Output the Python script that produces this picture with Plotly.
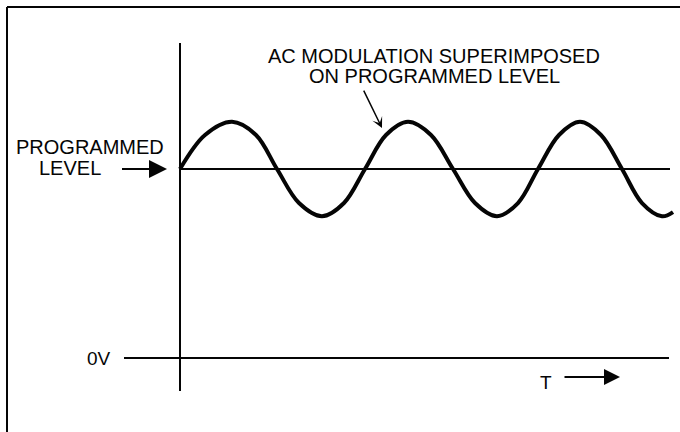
import plotly.graph_objects as go

# Time axis (arbitrary units) and voltage (programmed level = 1.0)
wave_t = [0.0, 2.5, 5.2, 7.6, 9.7, 11.9, 14.2, 16.4, 18.5, 20.6, 22.8, 25.1, 27.3, 29.5,
          31.7, 33.8, 35.8, 37.9, 40.0, 42.1, 44.2, 46.2, 48.2, 49.3]
wave_v = [1.0, 1.18, 1.25, 1.18, 1.0, 0.82, 0.75, 0.82, 1.0, 1.18, 1.25, 1.18, 1.0, 0.82,
          0.75, 0.82, 1.0, 1.18, 1.25, 1.18, 1.0, 0.82, 0.75, 0.772]

level_t = [0.0, 49.0]
level_v = [1.0, 1.0]

zero_t = [-5.6, 48.9]
zero_v = [0.0, 0.0]

vaxis_t = [0.0, 0.0]
vaxis_v = [1.667, -0.175]

title_lines = ["AC MODULATION SUPERIMPOSED", "ON PROGRAMMED LEVEL"]
level_label = ["PROGRAMMED", "LEVEL"]
zero_label = "0V"
time_label = "T"

FONT = "Liberation Sans, Arial, sans-serif"
INK = "#050505"

fig = go.Figure()

line_style = dict(color=INK, width=2)
fig.add_trace(go.Scatter(x=vaxis_t, y=vaxis_v, mode="lines", line=line_style, hoverinfo="skip"))
fig.add_trace(go.Scatter(x=zero_t, y=zero_v, mode="lines", line=line_style, hoverinfo="skip"))
fig.add_trace(go.Scatter(x=level_t, y=level_v, mode="lines", line=line_style, hoverinfo="skip"))
fig.add_trace(go.Scatter(x=wave_t, y=wave_v, mode="lines",
                         line=dict(color=INK, width=4, shape="spline", smoothing=1.0),
                         hoverinfo="skip"))

font = dict(family=FONT, size=20, color=INK)

# Caption above the waveform, with pointer arrow
fig.add_annotation(x=25.4, y=(358 - 55.5) / 189, text=title_lines[0], showarrow=False,
                   font=font, xanchor="center", yanchor="middle")
fig.add_annotation(x=25.4, y=(358 - 76) / 189, text=title_lines[1], showarrow=False,
                   font=font, xanchor="center", yanchor="middle")
fig.add_annotation(x=20.2, y=1.217, ax=18.3, ay=1.423, axref="x", ayref="y",
                   text="", showarrow=True, arrowhead=3, arrowsize=1.2,
                   arrowwidth=1.5, arrowcolor=INK)

# Programmed level label and arrow
fig.add_annotation(x=-9.0, y=(358 - 147) / 189, text=level_label[0], showarrow=False,
                   font=font, xanchor="center", yanchor="middle")
fig.add_annotation(x=-11.05, y=(358 - 168) / 189, text=level_label[1], showarrow=False,
                   font=font, xanchor="center", yanchor="middle")
fig.add_annotation(x=-1.3, y=1.0, ax=-5.95, ay=1.0, axref="x", ayref="y",
                   text="", showarrow=True, arrowhead=2, arrowsize=1.8,
                   arrowwidth=2, arrowcolor=INK)

# 0V label
fig.add_annotation(x=-8.1, y=0.0, text=zero_label, showarrow=False,
                   font=dict(family=FONT, size=19, color=INK),
                   xanchor="center", yanchor="middle")

# Time label and arrow
fig.add_annotation(x=36.55, y=-0.13, text=time_label, showarrow=False,
                   font=dict(family=FONT, size=19, color=INK),
                   xanchor="center", yanchor="middle")
fig.add_annotation(x=44.0, y=-0.1005, ax=38.3, ay=-0.1005, axref="x", ayref="y",
                   text="", showarrow=True, arrowhead=2, arrowsize=1.6,
                   arrowwidth=2, arrowcolor=INK)

# Frame: top and left edges
fig.add_shape(type="line", xref="paper", yref="paper",
              x0=7 / 680, y0=1 - 7 / 432, x1=1.0, y1=1 - 7 / 432,
              line=dict(color=INK, width=2))
fig.add_shape(type="line", xref="paper", yref="paper",
              x0=7 / 680, y0=1 - 7 / 432, x1=7 / 680, y1=0.0,
              line=dict(color=INK, width=2))

fig.update_xaxes(visible=False, range=[-18.0, 50.0])
fig.update_yaxes(visible=False, range=[-74 / 189, 358 / 189])
fig.update_layout(width=680, height=432, margin=dict(l=0, r=0, t=0, b=0),
                  showlegend=False, plot_bgcolor="white", paper_bgcolor="white")

fig.write_html("out.html")
